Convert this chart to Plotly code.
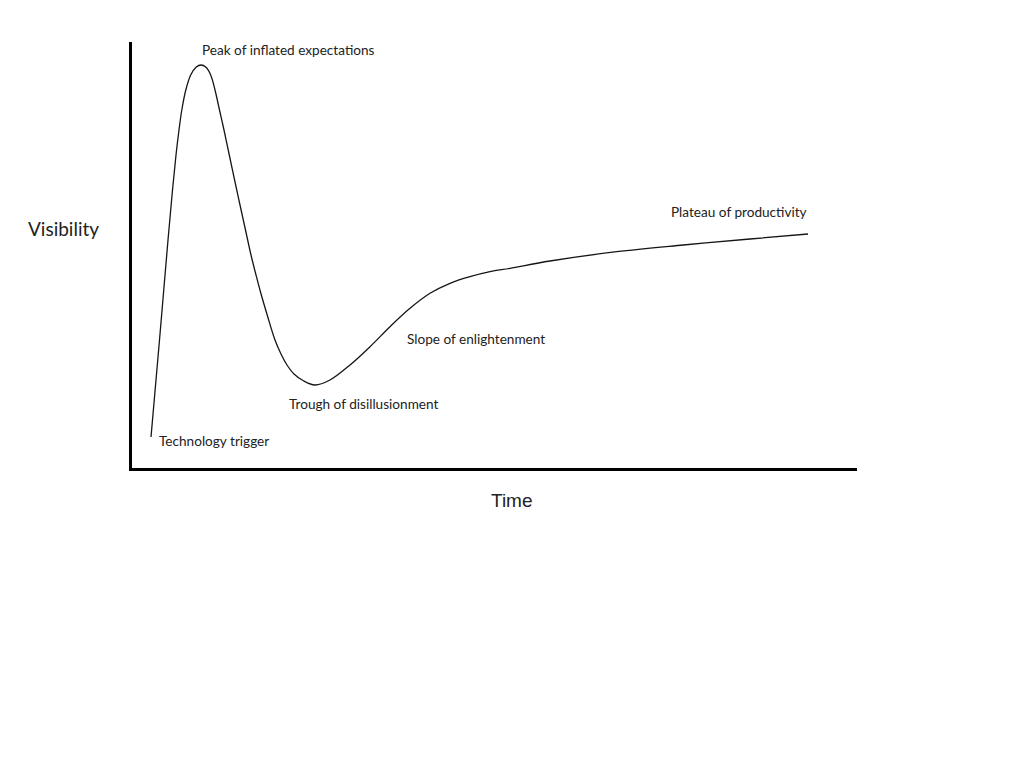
import plotly.graph_objects as go

# Hype cycle curve (time units, visibility units)
time = [19, 27.5, 36, 40.5, 44, 47, 49.8, 53.8,
        58.7, 64, 69, 74, 78.7, 83, 87.5, 92, 97.3, 102.6,
        108, 113.5, 119, 124, 128.5, 135.5, 143, 149, 155, 162,
        171, 183, 198, 218, 238, 258, 278, 298, 318, 338,
        358, 378, 418, 484.7, 551.3, 618, 676]
visibility = [31, 128, 228, 278, 313, 338, 358, 378,
              393, 400.7, 403, 400.7, 393, 378, 358, 338, 313, 288,
              263, 238, 213, 193, 176, 152, 128, 114, 103, 94,
              87.5, 83, 88, 103, 121.3, 141.3, 159.7, 174.7, 184.7, 191.3,
              196.3, 199.7, 207, 216.3, 223, 229, 234]

# Phase labels: text, x, y, anchor
phase_labels = ["Technology trigger", "Peak of inflated expectations", "Trough of disillusionment",
                "Slope of enlightenment", "Plateau of productivity"]
phase_x = [25, 156, 155, 273, 537]
phase_y = [27, 418, 64, 129, 256]
phase_anchor = ["left", "center", "left", "left", "left"]

x_title = "Time"
y_title = "Visibility"

X_RANGE = [0, 725]
Y_RANGE = [0, 426]

def px(x):
    return (x - X_RANGE[0]) / (X_RANGE[1] - X_RANGE[0])

def py(y):
    return (y - Y_RANGE[0]) / (Y_RANGE[1] - Y_RANGE[0])

fig = go.Figure()
fig.add_trace(go.Scatter(x=time, y=visibility, mode="lines",
                         line=dict(color="#151515", width=1.3, shape="spline", smoothing=1.0),
                         hoverinfo="skip", showlegend=False))

label_font = dict(family="Lato, 'Open Sans', sans-serif", size=13.6, color="#222222")
for t, x, y, a in zip(phase_labels, phase_x, phase_y, phase_anchor):
    fig.add_annotation(x=px(x), y=py(y), xref="paper", yref="paper", text=t, showarrow=False,
                       xanchor=a, yanchor="middle", font=label_font)

fig.add_annotation(x=px(-69), y=py(240), xref="paper", yref="paper", text=y_title, showarrow=False,
                   xanchor="center", yanchor="middle",
                   font=dict(family="Lato, 'Open Sans', sans-serif", size=19, color="#222222"))
fig.add_annotation(x=px(380), y=py(-33), xref="paper", yref="paper", text=x_title, showarrow=False,
                   xanchor="center", yanchor="middle",
                   font=dict(family="'Liberation Sans', Arial, sans-serif", size=19, color="#222222"))

fig.update_layout(
    width=1024, height=768,
    margin=dict(l=124, r=175, t=34, b=308),
    paper_bgcolor="white", plot_bgcolor="white",
    xaxis=dict(range=X_RANGE, showgrid=False, zeroline=False, showticklabels=False, ticks="",
               showline=True, linecolor="black", linewidth=3),
    yaxis=dict(range=Y_RANGE, showgrid=False, zeroline=False, showticklabels=False, ticks="",
               showline=True, linecolor="black", linewidth=3),
)

fig.write_html("out.html")
